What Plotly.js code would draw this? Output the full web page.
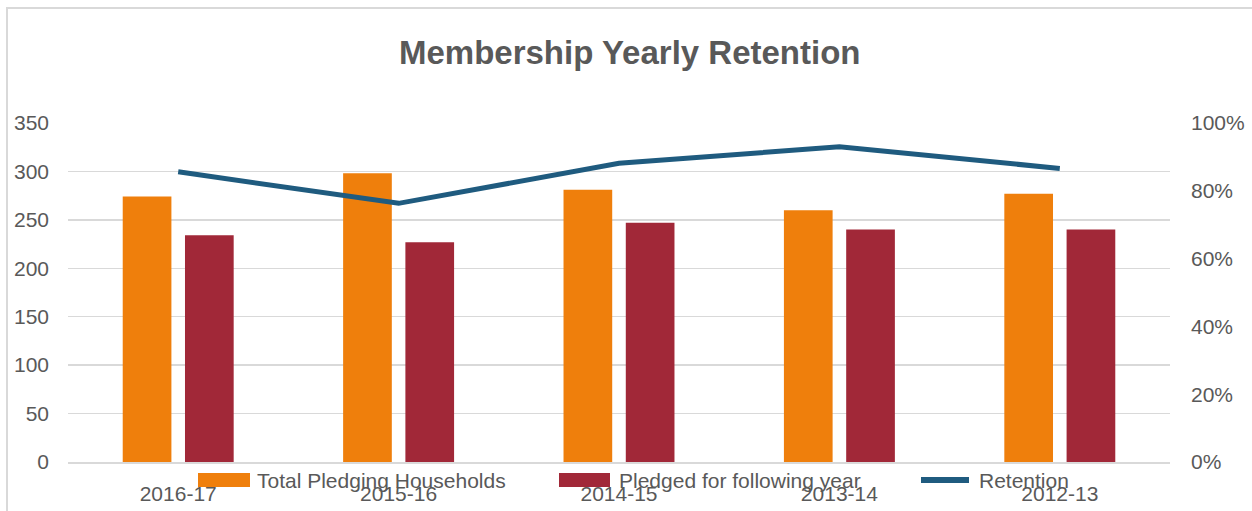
<!DOCTYPE html>
<html>
<head>
<meta charset="utf-8">
<script src="https://cdn.plot.ly/plotly-3.0.1.min.js"></script>
<style>
  html, body { margin: 0; padding: 0; background: #fff; }
  #wrap { position: relative; width: 1252px; height: 511px; overflow: hidden; }
  #chart { position: absolute; left: 0; top: 0; width: 1252px; height: 511px; }
  #frame { position: absolute; left: 6px; top: 7px; width: 1300px; height: 600px;
           border-left: 2px solid #d9d9d9; border-top: 2px solid #d9d9d9; pointer-events: none; }
</style>
</head>
<body>
<div id="wrap">
  <div id="chart"></div>
  <div id="frame"></div>
</div>
<script>
const categories = ["2016-17", "2015-16", "2014-15", "2013-14", "2012-13"];
const totalPledging = [274, 298, 281, 260, 277];
const pledgedFollowing = [234, 227, 247, 240, 240];
const retention = [0.856, 0.763, 0.881, 0.930, 0.866];
const seriesNames = ["Total Pledging Households", "Pledged for following year", "Retention"];
const seriesColors = ["#EF7F0C", "#A12838", "#1F5B7F"];

const textColor = "#595959";
const fontFamily = "Liberation Sans, Arial, sans-serif";

const W = 1252, H = 511;
const M = { l: 68, r: 82, t: 123, b: 49 };
const PW = W - M.l - M.r, PH = H - M.t - M.b;
// pixel -> paper helpers for the hand-drawn legend (not data marks)
const px = v => (v - M.l) / PW;
const py = v => (H - M.b - v) / PH;

const traces = [
  {
    type: "bar", name: seriesNames[0],
    x: categories, y: totalPledging,
    marker: { color: seriesColors[0] }, yaxis: "y"
  },
  {
    type: "bar", name: seriesNames[1],
    x: categories, y: pledgedFollowing,
    marker: { color: seriesColors[1] }, yaxis: "y"
  },
  {
    type: "scatter", mode: "lines", name: seriesNames[2],
    x: categories, y: retention,
    line: { color: seriesColors[2], width: 5 }, yaxis: "y2"
  }
];

// legend, drawn as shapes + text (reference uses wide swatches)
const legendY = 480;
const legendItems = [
  { x0: 198, x1: 250, tx: 255, kind: "rect" },
  { x0: 559, x1: 610, tx: 617, kind: "rect" },
  { x0: 918, x1: 972, tx: 977, kind: "line" }
];
const shapes = [], annotations = [];
legendItems.forEach((it, i) => {
  if (it.kind === "rect") {
    shapes.push({ type: "rect", xref: "paper", yref: "paper",
      x0: px(it.x0), x1: px(it.x1), y0: py(legendY + 7), y1: py(legendY - 7),
      fillcolor: seriesColors[i], line: { width: 0 } });
  } else {
    shapes.push({ type: "line", xref: "paper", yref: "paper",
      x0: px(it.x0 + 3), x1: px(it.x1 - 3), y0: py(legendY), y1: py(legendY),
      line: { color: seriesColors[i], width: 6 } });
  }
  annotations.push({ xref: "paper", yref: "paper", x: px(it.tx), y: py(legendY),
    xanchor: "left", yanchor: "middle", showarrow: false, text: seriesNames[i],
    font: { size: 21, color: textColor, family: fontFamily } });
});

const layout = {
  width: W, height: H,
  margin: { l: M.l, r: M.r, t: M.t, b: M.b, pad: 0 },
  paper_bgcolor: "rgba(0,0,0,0)", plot_bgcolor: "rgba(0,0,0,0)",
  font: { family: fontFamily, color: textColor, size: 21 },
  title: {
    text: "<b>Membership Yearly Retention</b>",
    font: { family: fontFamily, size: 33, color: textColor },
    x: 0.503, xref: "container", xanchor: "center",
    y: 1 - 52 / 511, yref: "container", yanchor: "middle"
  },
  barmode: "group", bargap: 0.435, bargroupgap: 0.218,
  showlegend: false,
  shapes: shapes,
  annotations: annotations,
  xaxis: {
    type: "category", showgrid: false, zeroline: false,
    showline: true, linecolor: "#d9d9d9", linewidth: 2,
    ticks: "outside", ticklen: 12, tickcolor: "rgba(0,0,0,0)",
    tickfont: { size: 21, color: textColor, family: fontFamily }
  },
  yaxis: {
    range: [0, 350], dtick: 50, tick0: 0,
    showgrid: true, gridcolor: "#d9d9d9", gridwidth: 1.5,
    zeroline: false, showline: false,
    ticklabelstandoff: 18,
    tickfont: { size: 21, color: textColor, family: fontFamily }
  },
  yaxis2: {
    range: [0, 1], dtick: 0.2, tick0: 0, tickformat: ".0%",
    overlaying: "y", side: "right", showgrid: false, zeroline: false, showline: false,
    ticklabelstandoff: 20,
    tickfont: { size: 21, color: textColor, family: fontFamily }
  }
};

Plotly.newPlot("chart", traces, layout, { displayModeBar: false, staticPlot: true });
</script>
</body>
</html>
